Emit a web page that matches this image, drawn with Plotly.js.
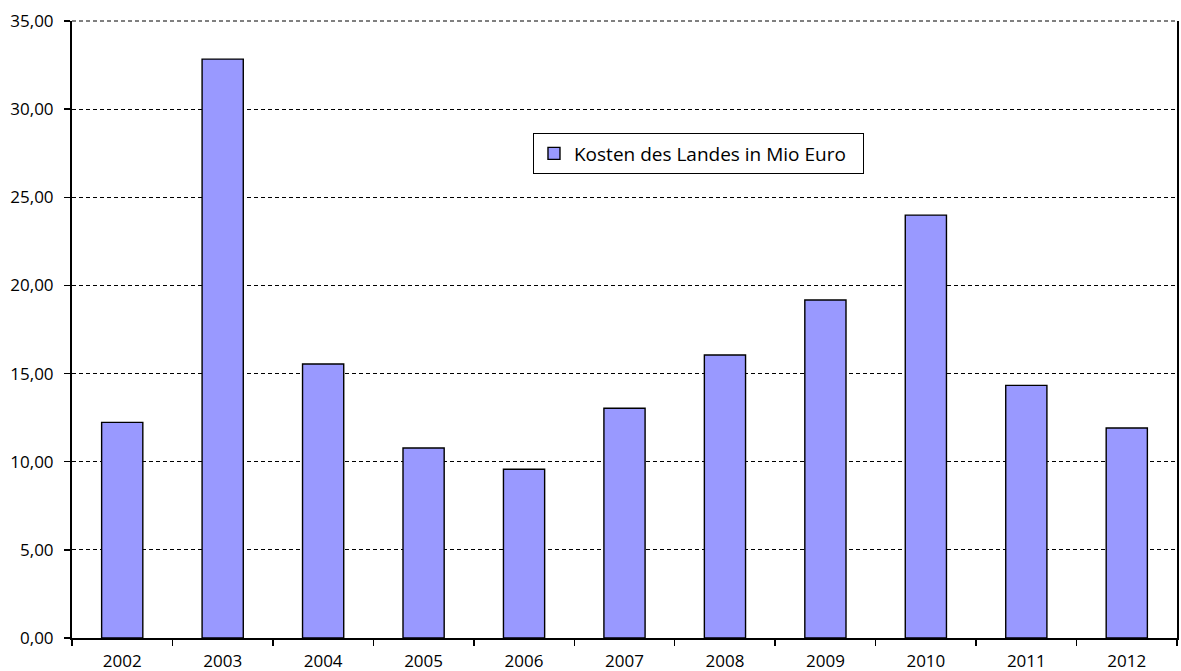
<!DOCTYPE html>
<html>
<head>
<meta charset="utf-8">
<script src="https://cdn.plot.ly/plotly-3.0.1.min.js"></script>
<style>html,body{margin:0;padding:0;background:#fff;}#chart{width:1181px;height:671px;}</style>
</head>
<body>
<div id="chart"></div>
<script>
const years = ["2002","2003","2004","2005","2006","2007","2008","2009","2010","2011","2012"];
const kosten = [12.23, 32.84, 15.54, 10.78, 9.57, 13.03, 16.05, 19.17, 23.99, 14.33, 11.91];
const seriesName = "Kosten des Landes in Mio Euro";
const yTicks = [0, 5, 10, 15, 20, 25, 30, 35];

const font = {family: "Open Sans, DejaVu Sans, sans-serif", size: 17, color: "#000"};
const legendFont = {family: "Open Sans, DejaVu Sans, sans-serif", size: 19, color: "#000"};

Plotly.newPlot("chart", [{
  type: "bar",
  x: years,
  y: kosten,
  name: seriesName,
  showlegend: true,
  marker: {color: "#9999FF", line: {color: "#000", width: 1.4}},
  hoverinfo: "x+y"
}], {
  width: 1181, height: 671,
  margin: {l: 72, r: 4, t: 21, b: 33},
  paper_bgcolor: "#fff", plot_bgcolor: "#fff",
  font: font,
  separators: ",.",
  bargap: 0.59,
  showlegend: true,
  legend: {
    orientation: "h",
    x: 0.417, y: 0.818, xanchor: "left", yanchor: "top",
    bordercolor: "#000", borderwidth: 1.2, bgcolor: "#fff",
    font: legendFont,
    entrywidth: 283, entrywidthmode: "pixels",
    tracegroupgap: 0
  },
  xaxis: {
    type: "category",
    showline: true, linecolor: "#000", linewidth: 2,
    ticks: "outside", tickson: "boundaries", ticklen: 6, tickwidth: 1.5, tickcolor: "#000",
    ticklabelstandoff: 7,
    showgrid: false, zeroline: false,
    tickfont: font
  },
  yaxis: {
    range: [0, 35],
    tickvals: yTicks,
    tickformat: ".2f",
    showline: true, linecolor: "#000", linewidth: 2, mirror: true,
    ticks: "outside", ticklen: 6, tickwidth: 1.5, tickcolor: "#000",
    ticklabelstandoff: 7,
    showgrid: true, gridcolor: "#000", gridwidth: 1, griddash: "4px,3px",
    zeroline: false,
    tickfont: font
  },
  shapes: [{
    type: "line", xref: "paper", yref: "paper", x0: 0, x1: 1, y0: 1, y1: 1,
    line: {color: "#000", width: 1, dash: "4px,3px"}
  }]
}, {displayModeBar: false, staticPlot: true});
</script>
</body>
</html>
